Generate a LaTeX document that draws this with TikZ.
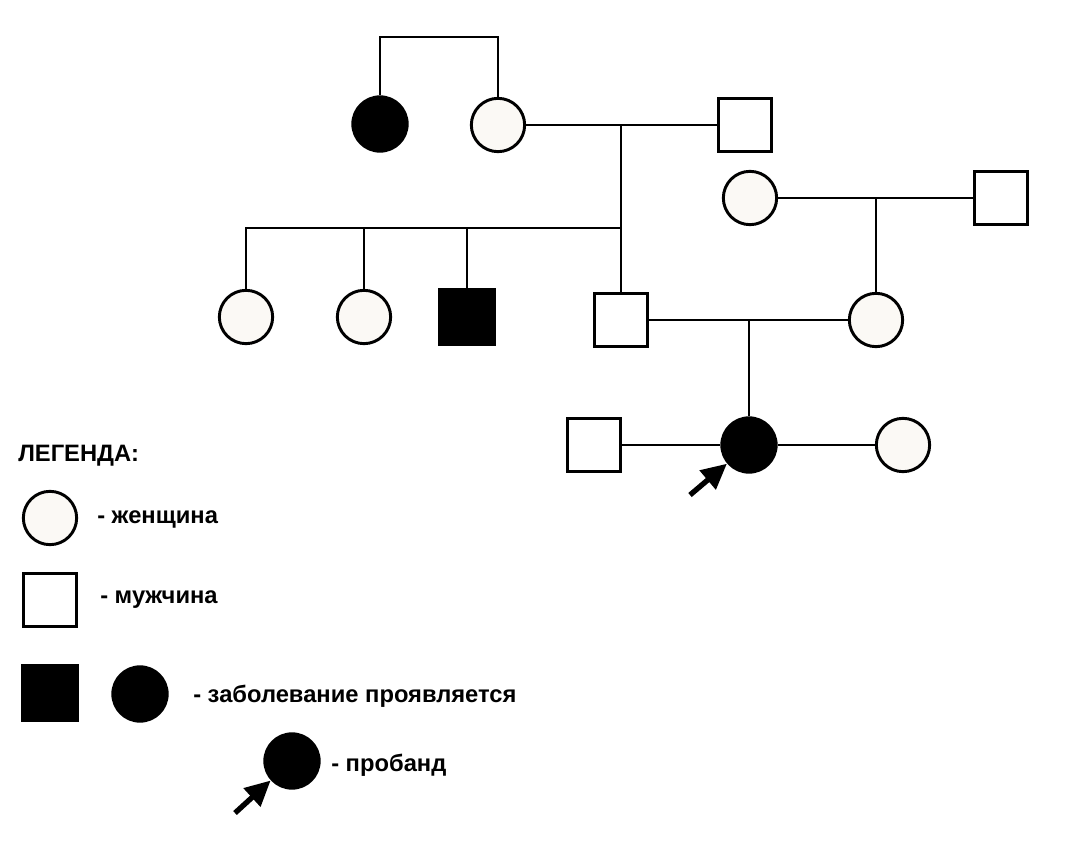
\documentclass[tikz,border=0pt]{standalone}
\usepackage{fontspec}
\setmainfont{Liberation Sans}
\usetikzlibrary{arrows.meta}
\definecolor{paper}{HTML}{FBF9F5}
\begin{document}
\begin{tikzpicture}[x=0.75pt, y=-0.75pt,
      fem/.style={circle, draw, line width=2.2pt, fill=paper, minimum size=40pt, inner sep=0pt},
      mal/.style={rectangle, draw, line width=2.2pt, fill=white, minimum size=40pt, inner sep=0pt},
      illc/.style={circle, fill=black, minimum size=43pt, inner sep=0pt},
      ills/.style={rectangle, fill=black, minimum size=43pt, inner sep=0pt},
      link/.style={line width=1.5pt},
      pointer/.style={line width=4pt, -{Triangle[length=19pt,width=18pt]}},
      lbl/.style={anchor=base west, font=\fontsize{17.8}{20}\selectfont\bfseries, inner sep=0pt}
    ]
      \useasboundingbox (0,0) rectangle (1072,866);
      % generation I
      \node[illc] (aunt) at (380,124) {};
      \node[fem] (gm) at (498,125) {};
      \node[mal] (gf) at (745,125) {};
      \node[fem] (m2) at (750,198) {};
      \node[mal] (f2) at (1001,198) {};
      % generation II
      \node[fem] (c1) at (246,317) {};
      \node[fem] (c2) at (364,317) {};
      \node[ills] (c3) at (467,317) {};
      \node[mal] (fa) at (621,320) {};
      \node[fem] (mo) at (876,320) {};
      % generation III
      \node[mal] (hus) at (594,445) {};
      \node[illc] (prob) at (749,445) {};
      \node[fem] (sis) at (903,445) {};
      \coordinate (top) at (440,37);
      \coordinate (s1) at (621,228);
      \coordinate (pa) at (690,495);
      % connectors
      \draw[link] (aunt.north) |- (top) -| (gm.north);
      \draw[link] (gm.east) -- (gf.west);
      \draw[link] (gm.east -| s1) -- (fa.north);
      \draw[link] (c1.north) |- (s1);
      \draw[link] (c2.north) -- (c2.north |- s1);
      \draw[link] (c3.north) -- (c3.north |- s1);
      \draw[link] (m2.east) -- (f2.west);
      \draw[link] (m2.east -| mo.north) -- (mo.north);
      \draw[link] (fa.east) -- (mo.west);
      \draw[link] (fa.east -| prob.north) -- (prob.north);
      \draw[link] (hus.east) -- (prob.west);
      \draw[link] (prob.east) -- (sis.west);
      \draw[pointer] (pa) -- (prob);
      % legend
      \node[lbl] (leg) at (18,462) {ЛЕГЕНДА:};
      \node[fem] (lf) at (50,518) {};
      \node[lbl] (tf) at (97,523) {- женщина};
      \node[mal] (lm) at (50,600) {};
      \node[lbl] (tm) at (100,603) {- мужчина};
      \node[ills] (ls) at (50,693) {};
      \node[illc] (lc) at (140,694) {};
      \node[lbl] (ti) at (193,702) {- заболевание проявляется};
      \node[illc] (lp) at (292,761) {};
      \node[lbl] (tp) at (331,771) {- пробанд};
      \coordinate (la) at (235,813);
      \draw[pointer] (la) -- (lp);
    \end{tikzpicture}
\end{document}
